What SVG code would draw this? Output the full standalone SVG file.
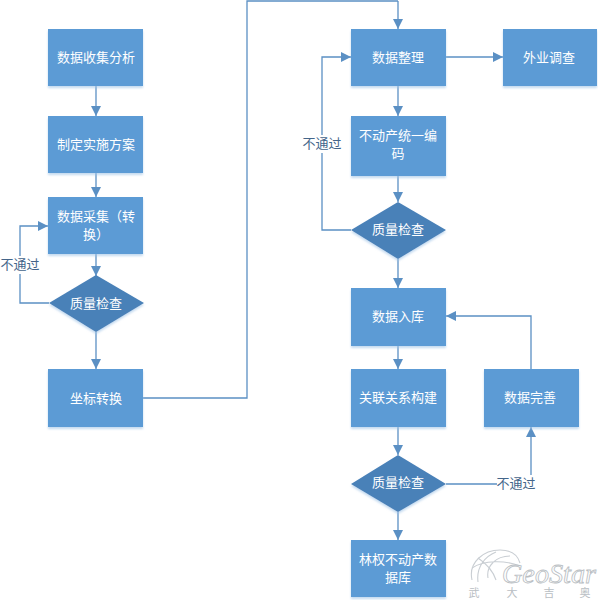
<svg xmlns="http://www.w3.org/2000/svg" width="598" height="600" viewBox="0 0 598 600">
<defs>
<marker id="a" markerUnits="userSpaceOnUse" markerWidth="12" markerHeight="12" refX="10" refY="5" orient="auto"><path d="M0 0L10 5L0 10Z" fill="#5b90c4"/></marker>
<filter id="s" x="-5%" y="-5%" width="110%" height="115%"><feDropShadow dx="0" dy="2" stdDeviation="1.2" flood-color="#9dc3e6" flood-opacity=".6"/></filter>
</defs>
<style>
.b{fill:#5b9bd5;filter:url(#s)}
.d{fill:#4a81b8;filter:url(#s)}
.t{font:13px "Noto Sans CJK SC","Noto Sans CJK JP",sans-serif;fill:#fff;text-anchor:middle}
.l{font:13px "Noto Sans CJK SC","Noto Sans CJK JP",sans-serif;fill:#44658a;text-anchor:middle}
.c{fill:none;stroke:#5b90c4;stroke-width:1.3;marker-end:url(#a)}
.n{fill:none;stroke:#5b90c4;stroke-width:1.3}
.g{fill:none;stroke:#c9ced3;stroke-width:1.1}
.w{font:11px "Noto Sans CJK SC","Noto Sans CJK JP",sans-serif;fill:#b9bec3;text-anchor:middle}
</style>
<rect width="598" height="600" fill="#fff"/>
<g id="connectors">
<path class="c" d="M96 86V116"/>
<path class="c" d="M96 173V197"/>
<path class="c" d="M96 254V276"/>
<path class="c" d="M96 332V369"/>
<path class="c" d="M49 303H20V226H48"/>
<path class="n" d="M143 398H247V1H398"/>
<path class="c" d="M398 1V29"/>
<path class="c" d="M446 57H503"/>
<path class="c" d="M398 86V116"/>
<path class="c" d="M398 176V202"/>
<path class="c" d="M351 230H322V57H351"/>
<path class="c" d="M398 259V288"/>
<path class="c" d="M398 346V369"/>
<path class="c" d="M398 427V455"/>
<path class="c" d="M398 512V540"/>
<path class="c" d="M446 484H531V427"/>
<path class="c" d="M531 369V316H446"/>
</g>
<g id="n1"><rect class="b" x="48" y="29" width="95" height="57"/><text class="t" x="96" y="62">数据收集分析</text></g>
<g id="n2"><rect class="b" x="48" y="116" width="95" height="57"/><text class="t" x="96" y="149">制定实施方案</text></g>
<g id="n3"><rect class="b" x="48" y="197" width="95" height="57"/><text class="t" x="96" y="221">数据采集（转</text><text class="t" x="96" y="239">换）</text></g>
<g id="n4"><path class="d" d="M96 275L144 303L96 332L49 303Z"/><text class="t" x="96" y="308">质量检查</text></g>
<g id="n5"><rect class="b" x="48" y="369" width="95" height="58"/><text class="t" x="96" y="403">坐标转换</text></g>
<g id="n6"><rect class="b" x="351" y="29" width="95" height="57"/><text class="t" x="398" y="62">数据整理</text></g>
<g id="n7"><rect class="b" x="503" y="29" width="94" height="57"/><text class="t" x="549" y="62">外业调查</text></g>
<g id="n8"><rect class="b" x="351" y="116" width="95" height="60"/><text class="t" x="398" y="140">不动产统一编</text><text class="t" x="398" y="158">码</text></g>
<g id="n9"><path class="d" d="M398 202L446 230L398 259L351 230Z"/><text class="t" x="398" y="234">质量检查</text></g>
<g id="n10"><rect class="b" x="351" y="288" width="95" height="58"/><text class="t" x="398" y="321">数据入库</text></g>
<g id="n11"><rect class="b" x="351" y="369" width="95" height="58"/><text class="t" x="398" y="402">关联关系构建</text></g>
<g id="n12"><rect class="b" x="484" y="369" width="95" height="58"/><text class="t" x="530" y="402">数据完善</text></g>
<g id="n13"><path class="d" d="M398 455L446 484L398 512L351 484Z"/><text class="t" x="398" y="487">质量检查</text></g>
<g id="n14"><rect class="b" x="351" y="540" width="95" height="57"/><text class="t" x="398" y="564">林权不动产数</text><text class="t" x="398" y="582">据库</text></g>
<rect x="2" y="256" width="36" height="18" fill="#fff"/><text class="l" x="20" y="269">不通过</text>
<rect x="303" y="135" width="38" height="18" fill="#fff"/><text class="l" x="322" y="148">不通过</text>
<rect x="497" y="475" width="38" height="18" fill="#fff"/><text class="l" x="516" y="488">不通过</text>
<g id="watermark">
<path class="g" d="M472 580C468 562 484 550 500 550C512 550 518 556 520 563"/>
<path class="g" d="M478 582C476 566 486 556 496 552M488 578C486 566 496 556 510 556M472 568C484 560 505 560 520 566M478 558C490 566 494 574 496 580"/>
<text x="502" y="583" font-family="'Liberation Serif',serif" font-style="italic" font-size="27" textLength="94" lengthAdjust="spacingAndGlyphs" fill="#fff" stroke="#b9bec3" stroke-width=".8">GeoStar</text>
<text class="w" x="474" y="597">武</text><text class="w" x="512" y="597">大</text><text class="w" x="549" y="597">吉</text><text class="w" x="585" y="597">奥</text>
</g>
</svg>
